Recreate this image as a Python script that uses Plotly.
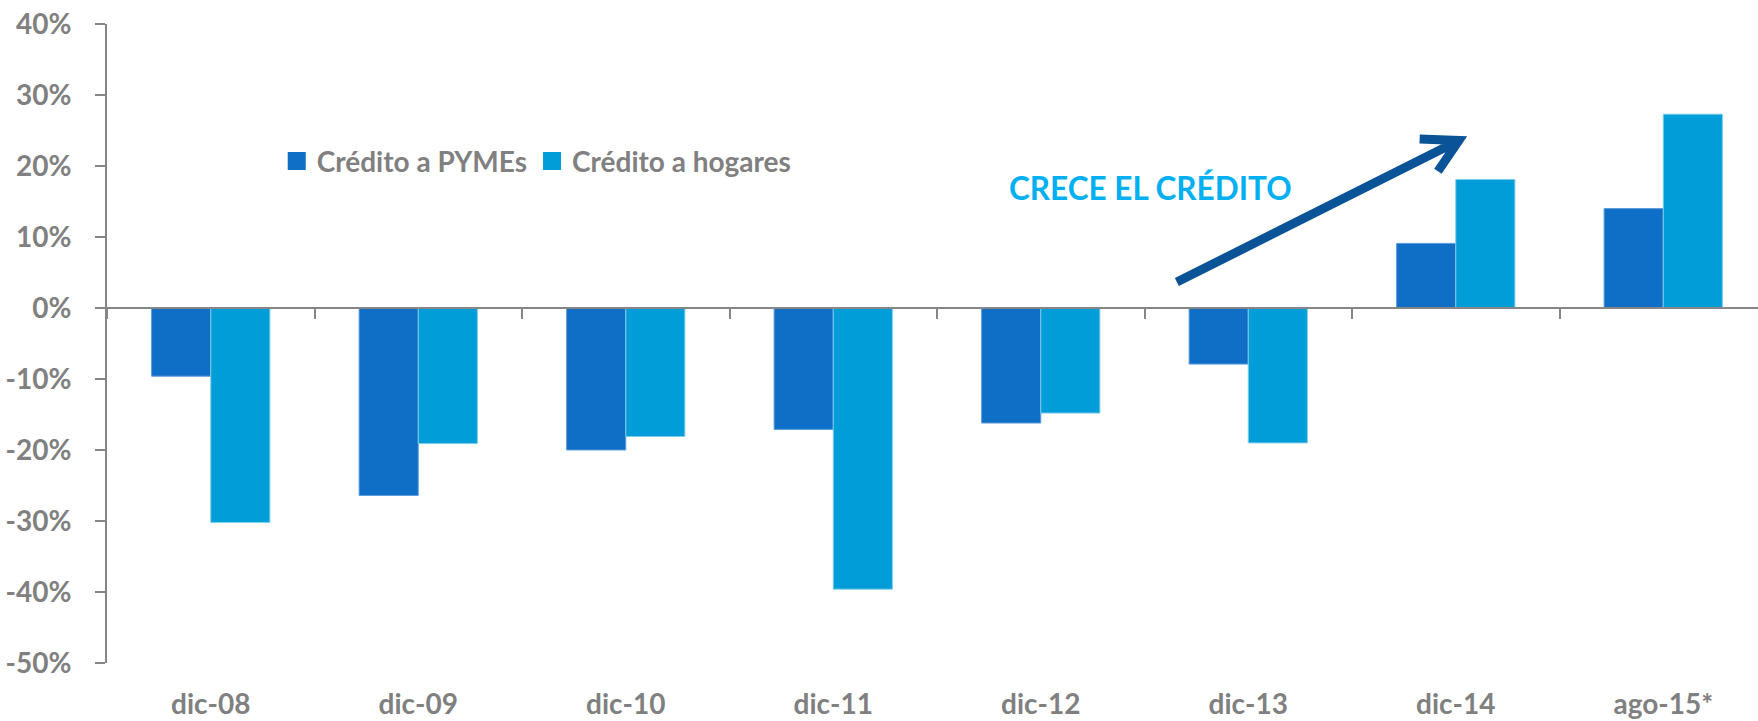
import plotly.graph_objects as go

categories = ["dic-08", "dic-09", "dic-10", "dic-11", "dic-12", "dic-13", "dic-14", "ago-15*"]
pymes = [-9.6, -26.4, -20.0, -17.1, -16.2, -7.9, 9.1, 14.0]
hogares = [-30.2, -19.1, -18.1, -39.6, -14.8, -19.0, 18.1, 27.3]
series_names = ["Crédito a PYMEs", "Crédito a hogares"]
y_ticks = [-50, -40, -30, -20, -10, 0, 10, 20, 30, 40]
y_tick_text = [f"{v}%" for v in y_ticks]

C_PYME = "#0F6FC6"
C_HOG = "#009DD9"
GREY = "#808080"
AXIS = "#868686"
FONT = "Lato"

x_range = [-0.5, 7.4566]
y_range = [-50, 40]

fig = go.Figure()
fig.add_trace(go.Bar(x=categories, y=pymes, name=series_names[0], marker=dict(color=C_PYME, line=dict(color="#5C9BDD", width=1)),
                     showlegend=False))
fig.add_trace(go.Bar(x=categories, y=hogares, name=series_names[1], marker=dict(color=C_HOG, line=dict(color="#7FCDEB", width=1)),
                     showlegend=False))
# legend entries
for nm, col in zip(series_names, [C_PYME, C_HOG]):
    fig.add_trace(go.Scatter(x=[None], y=[None], xaxis="x2", mode="markers", name=nm,
                             marker=dict(symbol="square", size=16, color=col, line=dict(color=col, width=2)),
                             hoverinfo="skip"))

zero_pos = (0 - y_range[0]) / (y_range[1] - y_range[0])

fig.update_layout(
    width=1758, height=721,
    margin=dict(l=107, r=0, t=24, b=58, autoexpand=False),
    paper_bgcolor="white", plot_bgcolor="white",
    barmode="group", bargap=0.43, bargroupgap=0,
    font=dict(family=FONT, size=28, color=GREY, weight=700),
    xaxis=dict(type="category", range=x_range, anchor="free", position=zero_pos,
               showline=True, linecolor=AXIS, linewidth=2, automargin=False,
               ticks="outside", tickson="boundaries", ticklen=10, tickwidth=1.5, tickcolor=AXIS,
               showticklabels=False, showgrid=False, zeroline=False, fixedrange=True),
    xaxis2=dict(type="linear", range=x_range, overlaying="x", anchor="y", side="bottom",
                tickmode="array", tickvals=list(range(len(categories))), ticktext=categories,
                showline=False, ticks="", showgrid=False, zeroline=False, ticklabelstandoff=22,
                automargin=False,
                tickfont=dict(family=FONT, size=28, color=GREY, weight=700)),
    yaxis=dict(range=y_range, tickmode="array", tickvals=y_ticks, ticktext=y_tick_text,
               showline=True, linecolor=AXIS, linewidth=2, ticks="outside", ticklen=10, tickwidth=1.5,
               tickcolor=AXIS, showgrid=False, zeroline=False, ticklabelstandoff=18, automargin=False,
               tickfont=dict(family=FONT, size=28, color=GREY, weight=700)),
    legend=dict(orientation="h", x=0.1028, xanchor="left", y=0.785, yanchor="middle",
                bgcolor="rgba(0,0,0,0)", font=dict(family=FONT, size=28, color=GREY, weight=700),
                traceorder="normal"),
    showlegend=True,
)

fig.add_annotation(text="CRECE EL CRÉDITO", x=4.53, y=16.9, xref="x2", yref="y", showarrow=False,
                   xanchor="center", yanchor="middle",
                   font=dict(family=FONT, size=31.5, color="#00B0F0", weight=700))

fig.add_shape(type="path", xref="x2", yref="y",
              path="M4.656,3.65 L6.015,23.6 M5.826,23.8 L6.015,23.6 L5.914,19.27",
              line=dict(color="#0A5396", width=9))

fig.write_html("out.html", config={"displayModeBar": False},
               post_script="document.body.style.margin='0';document.body.style.overflow='hidden';")
